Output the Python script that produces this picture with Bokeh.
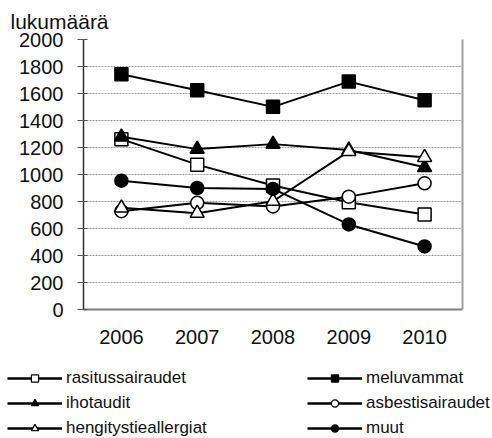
from bokeh.plotting import figure
from bokeh.layouts import column
from bokeh.models import (FactorRange, Range1d, LinearAxis, Legend, LegendItem,
                          FixedTicker, Title)
from bokeh.embed import file_html
from bokeh.resources import INLINE

years = ["2006", "2007", "2008", "2009", "2010"]
rasitussairaudet = [1262, 1073, 918, 795, 704]
meluvammat = [1742, 1624, 1501, 1688, 1550]
ihotaudit = [1279, 1188, 1225, 1181, 1053]
asbestisairaudet = [728, 790, 763, 836, 935]
hengitystieallergiat = [753, 713, 802, 1171, 1127]
muut = [954, 900, 893, 630, 467]
y_ticks = list(range(0, 2001, 200))

FONT = "Liberation Sans"

p = figure(width=484, height=360, x_range=FactorRange(*years),
           y_range=Range1d(0, 2000), output_backend="svg",
           toolbar_location=None, min_border_left=83, min_border_right=22,
           min_border_top=37, min_border_bottom=51)
p.frame_align = False
p.title = Title(text="lukumäärä", align="left", offset=-73,
                text_font=FONT, text_font_size="21px", text_font_style="normal",
                text_color="#111111", standoff=14)
p.background_fill_color = "white"
p.border_fill_color = "white"
p.outline_line_color = None

ya = p.yaxis[0]
ya.ticker = FixedTicker(ticks=y_ticks)
ya.axis_line_color = "#333333"
ya.axis_line_width = 1.5
ya.major_tick_line_color = "#555555"
ya.major_tick_in = 4
ya.major_tick_out = 6
ya.minor_tick_line_color = None
ya.major_label_standoff = 14
ya.major_label_text_font = FONT
ya.major_label_text_font_size = "20px"
ya.major_label_text_color = "#111111"

xa = p.xaxis[0]
xa.axis_line_color = "#808080"
xa.axis_line_width = 2
xa.major_tick_line_color = None
xa.minor_tick_line_color = None
xa.major_label_standoff = 14
xa.major_label_text_font = FONT
xa.major_label_text_font_size = "20px"
xa.major_label_text_color = "#111111"

right = LinearAxis(ticker=FixedTicker(ticks=[]), axis_line_color="#a0a0a0",
                   axis_line_width=2, major_tick_line_color=None,
                   minor_tick_line_color=None, major_label_text_font_size="0px",
                   major_label_standoff=0)
p.add_layout(right, "right")

p.xgrid.grid_line_color = None
p.ygrid.ticker = FixedTicker(ticks=y_ticks)
p.ygrid.grid_line_color = "#9a9a9a"
p.ygrid.grid_line_dash = "2 1"
p.ygrid.grid_line_width = 1

series = [
    ("rasitussairaudet", rasitussairaudet, "square", "white", 13),
    ("meluvammat", meluvammat, "square", "black", 13),
    ("ihotaudit", ihotaudit, "triangle", "black", 14),
    ("asbestisairaudet", asbestisairaudet, "circle", "white", 13),
    ("hengitystieallergiat", hengitystieallergiat, "triangle", "white", 14),
    ("muut", muut, "circle", "black", 13),
]

# legend strip below the chart (its own series copies lie outside its view)
pl = figure(width=492, height=78, output_backend="svg", toolbar_location=None,
            x_range=FactorRange(*years), y_range=Range1d(5000, 6000),
            x_axis_type=None, y_axis_type=None, min_border=0,
            min_border_left=0, min_border_right=0, min_border_top=0,
            min_border_bottom=0)
pl.frame_align = False
pl.outline_line_color = None
pl.grid.visible = False
pl.background_fill_color = "white"
pl.border_fill_color = "white"

items = {}
for name, vals, marker, fill, size in series:
    p.line(years, vals, line_color="black", line_width=2)
    p.scatter(years, vals, marker=marker, size=size, fill_color=fill,
              line_color="black", line_width=1.5)
    lr = pl.line(years, vals, line_color="black", line_width=2.5)
    sr = pl.scatter(years, vals, marker=marker, fill_color=fill,
                    line_color="black", line_width=1.2)
    items[name] = LegendItem(label=name, renderers=[lr, sr])

order = ["rasitussairaudet", "ihotaudit", "hengitystieallergiat",
         "meluvammat", "asbestisairaudet", "muut"]
legend = Legend(items=[items[n] for n in order], ncols=2,
                location=(7, 0), padding=0, margin=0, spacing=5,
                glyph_width=55, glyph_height=18, label_height=18,
                label_width=236, label_standoff=4,
                label_text_font=FONT, label_text_font_size="17px",
                label_text_color="#111111",
                border_line_color=None, background_fill_alpha=0)
pl.add_layout(legend, "center")

layout = column(p, pl, spacing=0)
open("out.html", "w").write(file_html(layout, INLINE))
